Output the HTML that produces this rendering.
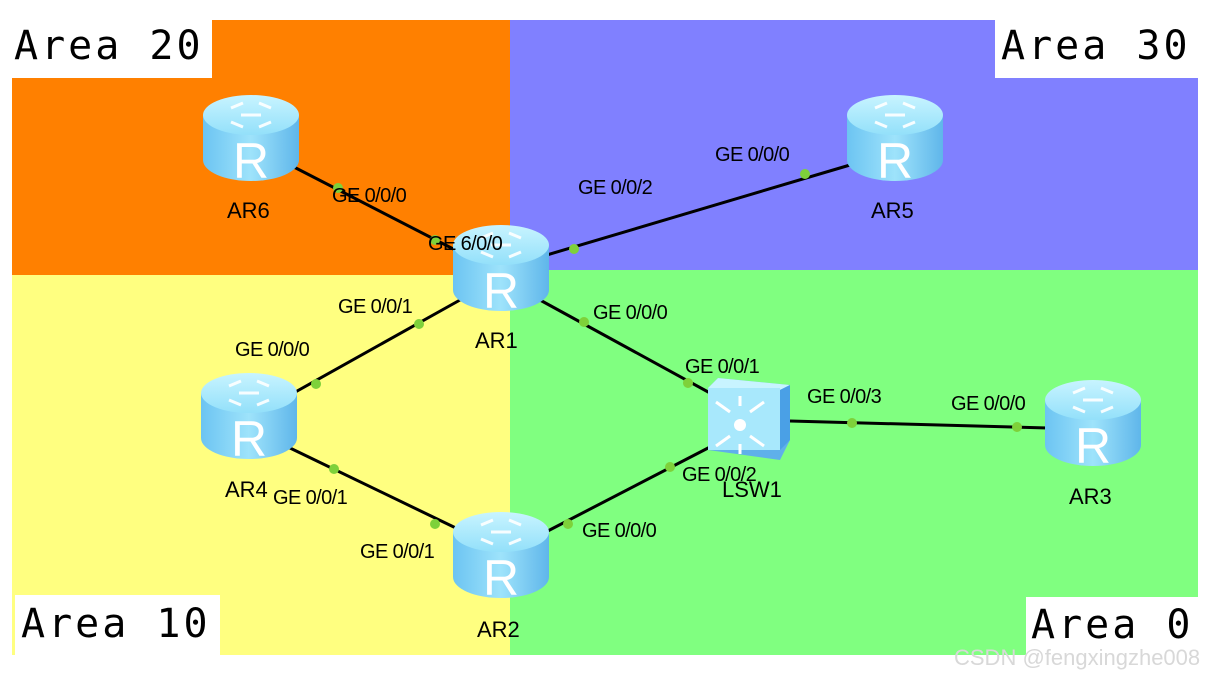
<!DOCTYPE html>
<html><head><meta charset="utf-8"><style>
html,body{margin:0;padding:0;background:#fff;width:1210px;height:676px;overflow:hidden}
svg text{font-family:"Liberation Sans",Arial,sans-serif}
.m{font-family:"DejaVu Sans Mono","Liberation Mono",monospace;font-size:40px;fill:#000;letter-spacing:3px}
.l{font-size:20px;fill:#000;letter-spacing:-0.6px}
.n{font-size:22px;fill:#000}
</style></head><body>
<svg width="1210" height="676" viewBox="0 0 1210 676" xmlns="http://www.w3.org/2000/svg">
<defs>
<linearGradient id="body" x1="0" x2="1" y1="0" y2="0">
<stop offset="0" stop-color="#6cc4f2"/><stop offset="0.5" stop-color="#9ee3fb"/><stop offset="1" stop-color="#5fb6ea"/>
</linearGradient>
<linearGradient id="top" x1="0" x2="0" y1="0" y2="1">
<stop offset="0" stop-color="#c8f4ff"/><stop offset="1" stop-color="#93e0fa"/>
</linearGradient>
<g id="r">
<path d="M0,20 L0,65 A48,21 0 0 0 96,65 L96,20 Z" fill="url(#body)"/>
<ellipse cx="48" cy="20" rx="48" ry="20" fill="url(#top)"/>
<g stroke="#fff" stroke-width="3" fill="none" opacity="0.9">
<path d="M28,13 l12,-5 M28,27 l12,5 M68,13 l-12,-5 M68,27 l-12,5 M38,20 h20"/>
</g>
<text x="48" y="83" text-anchor="middle" font-size="50" fill="#fff" font-family="Liberation Sans,sans-serif">R</text>
</g>
</defs>
<rect x="12" y="20" width="498" height="255" fill="#ff8000"/>
<rect x="510" y="20" width="688" height="250" fill="#8080ff"/>
<rect x="12" y="275" width="498" height="380" fill="#ffff80"/>
<rect x="510" y="270" width="688" height="385" fill="#80ff80"/>
<rect x="12" y="20" width="200" height="58" fill="#fff"/>
<rect x="995" y="20" width="203" height="58" fill="#fff"/>
<rect x="15" y="595" width="205" height="60" fill="#fff"/>
<rect x="1026" y="597" width="172" height="58" fill="#fff"/>
<text class="m" x="14" y="59">Area 20</text>
<text class="m" x="1001" y="59">Area 30</text>
<text class="m" x="21" y="637">Area 10</text>
<text class="m" x="1031" y="638">Area 0</text>
<g stroke="#000" stroke-width="3">
<line x1="290" y1="165" x2="465" y2="255"/>
<line x1="540" y1="257" x2="850" y2="165"/>
<line x1="290" y1="395" x2="460" y2="300"/>
<line x1="290" y1="448" x2="460" y2="530"/>
<line x1="540" y1="300" x2="710" y2="393"/>
<line x1="540" y1="535" x2="710" y2="447"/>
<line x1="790" y1="421" x2="1048" y2="428"/>
</g>
<g fill="#7ed13a">
<circle cx="338" cy="188" r="5"/><circle cx="435" cy="240" r="5"/>
<circle cx="574" cy="249" r="5"/><circle cx="805" cy="174" r="5"/>
<circle cx="419" cy="324" r="5"/><circle cx="316" cy="384" r="5"/>
<circle cx="334" cy="469" r="5"/><circle cx="435" cy="524" r="5"/>
<circle cx="584" cy="322" r="5"/><circle cx="688" cy="383" r="5"/>
<circle cx="568" cy="524" r="5"/><circle cx="670" cy="467" r="5"/>
<circle cx="852" cy="423" r="5"/><circle cx="1017" cy="427" r="5"/>
</g>
<use href="#r" x="203" y="95"/>
<use href="#r" x="453" y="225"/>
<use href="#r" x="847" y="95"/>
<use href="#r" x="201" y="373"/>
<use href="#r" x="453" y="512"/>
<use href="#r" x="1045" y="380"/>
<g>
<path d="M708,388 L718,378 L790,385 L790,440 L780,460 L708,450 Z" fill="#5fb0ea"/>
<path d="M708,388 L718,378 L790,385 L780,390 Z" fill="#c8f4ff"/>
<rect x="708" y="388" width="72" height="62" fill="#a8e8fc"/>
<path d="M780,390 L790,385 L790,440 L780,450 Z" fill="#4aa0e6"/>
<circle cx="740" cy="425" r="6" fill="#fff"/>
<g stroke="#fff" stroke-width="3" fill="none">
<path d="M716,402 l14,10 M764,402 l-14,10 M716,446 l14,-10 M764,446 l-14,-10 M740,396 v10 M740,444 v10"/>
</g>
</g>
<text class="n" x="227" y="218">AR6</text>
<text class="n" x="475" y="348">AR1</text>
<text class="n" x="871" y="218">AR5</text>
<text class="n" x="225" y="497">AR4</text>
<text class="n" x="477" y="637">AR2</text>
<text class="n" x="1069" y="504">AR3</text>
<text class="n" x="722" y="497">LSW1</text>
<g>
<text class="l" x="332" y="202">GE 0/0/0</text>
<text class="l" x="428" y="250">GE 6/0/0</text>
<text class="l" x="578" y="194">GE 0/0/2</text>
<text class="l" x="715" y="161">GE 0/0/0</text>
<text class="l" x="338" y="313">GE 0/0/1</text>
<text class="l" x="235" y="356">GE 0/0/0</text>
<text class="l" x="273" y="504">GE 0/0/1</text>
<text class="l" x="360" y="558">GE 0/0/1</text>
<text class="l" x="593" y="319">GE 0/0/0</text>
<text class="l" x="685" y="373">GE 0/0/1</text>
<text class="l" x="682" y="481">GE 0/0/2</text>
<text class="l" x="582" y="537">GE 0/0/0</text>
<text class="l" x="807" y="403">GE 0/0/3</text>
<text class="l" x="951" y="410">GE 0/0/0</text>
</g>
<text x="954" y="665" font-size="22" fill="#d8d8d8">CSDN @fengxingzhe008</text>
</svg>
</body></html>
